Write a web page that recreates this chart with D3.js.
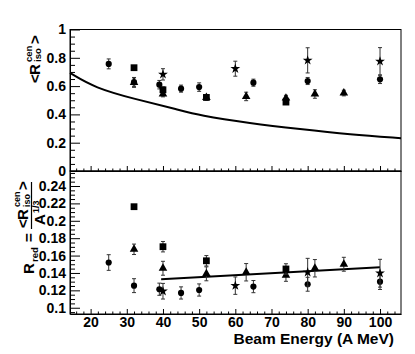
<!DOCTYPE html>
<html>
<head>
<meta charset="utf-8">
<script src="https://cdn.jsdelivr.net/npm/d3@7"></script>
<style>
  body { margin: 0; background: #fff; }
  svg text { font-family: "Liberation Sans Narrow", "Liberation Sans", sans-serif; font-weight: bold; fill: #000; }
</style>
</head>
<body>
<div id="chart"></div>
<script>
// series (beam energy in A MeV)
const circleE = [25, 32, 39, 45, 50, 65, 80, 100];
const circleIso = [0.757, 0.628, 0.61, 0.582, 0.593, 0.624, 0.636, 0.648];
const circleIsoErr = [0.035, 0.03, 0.03, 0.025, 0.03, 0.025, 0.025, 0.03];
const circleRed = [0.152, 0.1254, 0.1213, 0.117, 0.1204, 0.1243, 0.127, 0.13];
const circleRedErr = [0.009, 0.008, 0.007, 0.007, 0.007, 0.007, 0.008, 0.009];

const squareE = [32, 40, 52, 74];
const squareIso = [0.73, 0.574, 0.52, 0.487];
const squareIsoErr = [0.01, 0.02, 0.015, 0.015];
const squareRed = [0.2162, 0.1702, 0.154, 0.1446];
const squareRedErr = [0.002, 0.006, 0.006, 0.006];

const triE = [32, 40, 52, 63, 74, 82, 90];
const triIso = [0.626, 0.544, 0.52, 0.527, 0.515, 0.544, 0.551];
const triIsoErr = [0.035, 0.02, 0.02, 0.03, 0.02, 0.03, 0.02];
const triRed = [0.1672, 0.1454, 0.139, 0.1408, 0.1374, 0.1454, 0.15];
const triRedErr = [0.006, 0.008, 0.008, 0.01, 0.007, 0.01, 0.008];

const starE = [40, 60, 80, 100];
const starIso = [0.683, 0.723, 0.782, 0.775];
const starIsoErr = [0.04, 0.053, 0.089, 0.097];
const starRed = [0.119, 0.1254, 0.1408, 0.1397];
const starRedErr = [0.009, 0.01, 0.016, 0.016];

// model curve (top) and fit line (bottom)
const curveE = [14.3, 21.2, 32.3, 43.3, 50.2, 64, 77.9, 91.7, 105.8];
const curveIso = [0.693, 0.587, 0.508, 0.44, 0.392, 0.338, 0.296, 0.258, 0.232];
const lineE = [39.5, 100];
const lineRed = [0.1327, 0.1465];

// ticks
const xMajor = [20, 30, 40, 50, 60, 70, 80, 90, 100];
const xTickLabels = ["20", "30", "40", "50", "60", "70", "80", "90", "100"];
const topMajor = [0, 0.2, 0.4, 0.6, 0.8, 1];
const topTickLabels = ["0", "0.2", "0.4", "0.6", "0.8", "1"];
const botMajor = [0.1, 0.12, 0.14, 0.16, 0.18, 0.2, 0.22, 0.24];
const botTickLabels = ["0.1", "0.12", "0.14", "0.16", "0.18", "0.2", "0.22", "0.24"];

const W = 415, H = 354;
const left = 70, right = 401;

const svg = d3.select("#chart").append("svg")
  .attr("width", W)
  .attr("height", H);

/* scales */
const x = d3.scaleLinear().domain([14.3, 105.8]).range([left, right]);
const yTop = d3.scaleLinear().domain([0, 1]).range([171, 29.5]);
const yBot = d3.scaleLinear().domain([0.0928, 0.2561]).range([314, 172]);

/* minor tick lists */
const xMinor = d3.range(16, 106, 2).filter(v => v % 10 !== 0);
const topMinor = d3.range(0.05, 1, 0.05).filter(v => Math.abs(v * 5 - Math.round(v * 5)) > 1e-6);
const botMinor = d3.range(0.095, 0.256, 0.005).filter(v => Math.abs(v * 50 - Math.round(v * 50)) > 1e-6);

/* frames */
svg.append("rect")
  .attr("x", left).attr("y", yTop(1))
  .attr("width", right - left).attr("height", yTop(0) - yTop(1))
  .attr("fill", "none").attr("stroke", "#000").attr("stroke-width", 1);
svg.append("rect")
  .attr("x", left).attr("y", yTop(0))
  .attr("width", right - left).attr("height", 314 - yTop(0))
  .attr("fill", "none").attr("stroke", "#000").attr("stroke-width", 1);

/* x axis ticks (inside, upward) for both panels */
function xTicks(y0, withLabels) {
  const ax = d3.axisBottom(x).tickValues(xMajor).tickSizeInner(-5).tickSizeOuter(0)
    .tickFormat((d, i) => withLabels ? xTickLabels[i] : "");
  const g = svg.append("g").attr("transform", `translate(0,${y0})`).call(ax);
  g.select(".domain").attr("stroke", "#000");
  g.selectAll(".tick text").attr("font-size", 14)
    .style("font-family", "'Liberation Sans Narrow', sans-serif").style("font-weight", "bold");
  const gm = svg.append("g").attr("transform", `translate(0,${y0})`)
    .call(d3.axisBottom(x).tickValues(xMinor).tickSizeInner(-2.5).tickSizeOuter(0).tickFormat(""));
  gm.select(".domain").remove();
}
xTicks(yTop(0), false);
xTicks(314, true);

/* y axis ticks (inside, rightward) */
function yTicks(scale, major, labels, minor) {
  const ax = d3.axisLeft(scale).tickValues(major).tickSizeInner(-10).tickSizeOuter(0)
    .tickFormat((d, i) => labels[i]);
  const g = svg.append("g").attr("transform", `translate(${left},0)`).call(ax);
  g.select(".domain").attr("stroke", "#000");
  g.selectAll(".tick text").attr("x", -4).attr("font-size", 14)
    .style("font-family", "'Liberation Sans Narrow', sans-serif").style("font-weight", "bold");
  const gm = svg.append("g").attr("transform", `translate(${left},0)`)
    .call(d3.axisLeft(scale).tickValues(minor).tickSizeInner(-5).tickSizeOuter(0).tickFormat(""));
  gm.select(".domain").remove();
}
yTicks(yTop, topMajor, topTickLabels, topMinor);
yTicks(yBot, botMajor, botTickLabels, botMinor);

/* curves */
const topCurve = d3.line().x(d => x(d[0])).y(d => yTop(d[1])).curve(d3.curveBasis);
svg.append("path")
  .datum(d3.zip(curveE, curveIso))
  .attr("d", topCurve)
  .attr("fill", "none").attr("stroke", "#000").attr("stroke-width", 2);

const botLine = d3.line().x(d => x(d[0])).y(d => yBot(d[1]));
svg.append("path")
  .datum(d3.zip(lineE, lineRed))
  .attr("d", botLine)
  .attr("fill", "none").attr("stroke", "#000").attr("stroke-width", 2);

/* markers with error bars */
const shapes = {
  circle: d3.symbol().type(d3.symbolCircle).size(30),
  square: d3.symbol().type(d3.symbolSquare).size(46),
  tri: d3.symbol().type(d3.symbolTriangle).size(32),
  star: d3.symbol().type(d3.symbolStar).size(30)
};

function drawSeries(yScale, es, vals, errs, shape) {
  const g = svg.append("g");
  es.forEach((e, i) => {
    const cx = x(e), y1 = yScale(vals[i] - errs[i]), y2 = yScale(vals[i] + errs[i]);
    g.append("line").attr("x1", cx).attr("x2", cx).attr("y1", y1).attr("y2", y2)
      .attr("stroke", "#333").attr("stroke-width", 1);
    [y1, y2].forEach(yy => g.append("line")
      .attr("x1", cx - 2).attr("x2", cx + 2).attr("y1", yy).attr("y2", yy)
      .attr("stroke", "#333").attr("stroke-width", 1));
    g.append("path")
      .attr("d", shapes[shape]())
      .attr("transform", `translate(${cx},${yScale(vals[i])})`)
      .attr("fill", "#000");
  });
}

drawSeries(yTop, circleE, circleIso, circleIsoErr, "circle");
drawSeries(yTop, triE, triIso, triIsoErr, "tri");
drawSeries(yTop, squareE, squareIso, squareIsoErr, "square");
drawSeries(yTop, starE, starIso, starIsoErr, "star");

drawSeries(yBot, circleE, circleRed, circleRedErr, "circle");
drawSeries(yBot, triE, triRed, triRedErr, "tri");
drawSeries(yBot, squareE, squareRed, squareRedErr, "square");
drawSeries(yBot, starE, starRed, starRedErr, "star");

/* x title */
svg.append("text")
  .attr("x", 394).attr("y", 344)
  .attr("text-anchor", "end")
  .attr("font-size", 15.5)
  .text("Beam Energy (A MeV)");

/* rotated titles: local x = -screen y, local y = screen x */
const rot = svg.append("g").attr("transform", "rotate(-90)");

function addText(str, sy, sx, size) {
  rot.append("text").attr("x", -sy).attr("y", sx).attr("font-size", size).text(str);
}

// top: <R^cen_iso>
addText("<", 83, 40, 15);
addText("R", 75, 40, 15);
addText("iso", 62, 41, 9.5);
addText("cen", 62, 32, 9.5);
addText(">", 44, 40, 15);

// bottom: R_red = <R^cen_iso> / A^{1/3}
addText("R", 274, 34, 15);
addText("red", 262, 38, 9.5);
addText("=", 242, 34, 15);
addText("<", 228, 28, 15);
addText("R", 220, 28, 15);
addText("iso", 207, 29.5, 9);
addText("cen", 207, 20, 9);
addText(">", 190, 28, 15);
rot.append("line")
  .attr("x1", -229).attr("x2", -182).attr("y1", 31.5).attr("y2", 31.5)
  .attr("stroke", "#000").attr("stroke-width", 1.2);
addText("A", 225, 45, 15);
addText("1/3", 213, 39, 9);
</script>
</body>
</html>
